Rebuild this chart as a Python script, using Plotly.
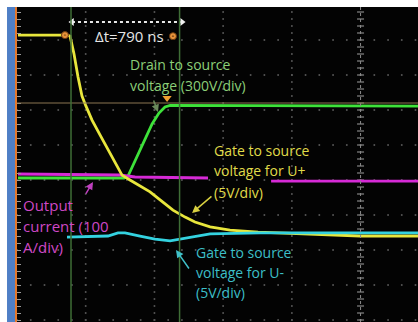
import plotly.graph_objects as go

# Horizontal unit: ns from left edge of screen (500 ns/div); vertical unit: scope divisions (0 = centre row)
yellow_t = [7, 364, 386, 415, 444, 473, 502, 546, 604, 662, 713, 764, 822, 895, 968, 1041, 1135, 1223, 1295, 1405, 1550, 1754, 2060, 2496, 2918]
yellow_v = [4.14, 4.14, 4.11, 3.6, 2.94, 2.4, 2.11, 1.71, 1.29, 0.86, 0.49, 0.14, 0.0, -0.17, -0.34, -0.57, -0.86, -1.06, -1.2, -1.34, -1.43, -1.49, -1.54, -1.6, -1.6]

green_t = [7, 779, 808, 895, 983, 1033, 1077, 1114, 2918]
green_v = [0.057, 0.057, 0.114, 0.857, 1.6, 1.914, 2.086, 2.13, 2.11]

magenta_t = [7, 750, 859, 1332, 1390, None, 1849, 2918]
magenta_v = [0.171, 0.143, 0.086, 0.057, 0.057, None, -0.03, -0.03]

cyan_t = [364, 662, 735, 786, 895, 1004, 1114, 1186, 1295, 1405, 1769, 2918]
cyan_v = [-1.63, -1.6, -1.51, -1.51, -1.6, -1.69, -1.74, -1.69, -1.6, -1.54, -1.51, -1.51]

cursor_t = [393, 1183]
delta_label = "Δt=790 ns"
trigger_level = 2.2

grid_cols = [500, 1000, 1500, 2000]
grid_rows = [-4, -3, -2, -1, 0, 1, 2, 3, 4]
centre_col = 2500

X_RANGE = [0, 2918]
Y_RANGE = [-4.057, 4.943]

fig = go.Figure()

# ---- graticule dots ----
gx, gy = [], []
for r in grid_rows:
    k = 0
    while k * 100 <= X_RANGE[1]:
        gx.append(k * 100); gy.append(r); k += 1
for c in grid_cols:
    v = -4.0
    while v <= Y_RANGE[1]:
        gx.append(c); gy.append(round(v, 2)); v += 0.2
fig.add_trace(go.Scatter(x=gx, y=gy, mode="markers",
                         marker=dict(size=2, color="#555555"), hoverinfo="skip", showlegend=False))

# centre column with minor ticks
ct_y = [round(-4 + 0.2 * i, 2) for i in range(int((Y_RANGE[1] + 4) / 0.2) + 1)]
fig.add_trace(go.Scatter(x=[centre_col] * len(ct_y), y=ct_y, mode="markers",
                         marker=dict(symbol="line-ew", size=5, line=dict(width=1, color="#a0a0a0")),
                         hoverinfo="skip", showlegend=False))
fig.add_shape(type="line", x0=centre_col, x1=centre_col, y0=Y_RANGE[0], y1=Y_RANGE[1],
              line=dict(color="#8a8a8a", width=1, dash="dot"))

# trigger level line
fig.add_shape(type="line", x0=X_RANGE[0], x1=X_RANGE[1], y0=trigger_level, y1=trigger_level,
              line=dict(color="#8c7652", width=1))
# cursor lines
for ct in cursor_t:
    fig.add_shape(type="line", x0=ct, x1=ct, y0=Y_RANGE[0], y1=Y_RANGE[1],
                  line=dict(color="#3f6e36", width=1.5))

# ---- waveforms ----
fig.add_trace(go.Scatter(x=green_t, y=green_v, mode="lines",
                         line=dict(color="#3ee23a", width=2.8), showlegend=False))
fig.add_trace(go.Scatter(x=magenta_t, y=magenta_v, mode="lines", connectgaps=False,
                         line=dict(color="#d62ad6", width=2.8), showlegend=False))
fig.add_trace(go.Scatter(x=yellow_t, y=yellow_v, mode="lines",
                         line=dict(color="#e8e63c", width=2.8), showlegend=False))
fig.add_trace(go.Scatter(x=cyan_t, y=cyan_v, mode="lines",
                         line=dict(color="#34d2e0", width=2.8), showlegend=False))

# Δt measurement arrow
fig.add_trace(go.Scatter(x=[cursor_t[0] + 7, cursor_t[1] + 18], y=[4.514, 4.514], mode="lines+markers",
                         line=dict(color="#e8e8e8", width=2, dash="dot"),
                         marker=dict(symbol=["triangle-left", "triangle-right"], size=7, color="#f0f0f0"),
                         showlegend=False, hoverinfo="skip"))
# cursor readout markers
fig.add_trace(go.Scatter(x=[349, 1135], y=[4.14, 4.11], mode="markers",
                         marker=dict(symbol="circle-dot", size=7, color="#e8923a",
                                     line=dict(color="#6a3a10", width=1)),
                         showlegend=False, hoverinfo="skip"))
# trigger position marker
fig.add_trace(go.Scatter(x=[1092], y=[2.34], mode="markers",
                         marker=dict(symbol="triangle-down", size=8, color="#f0a030"),
                         showlegend=False, hoverinfo="skip"))
# channel 4 ground marker
fig.add_trace(go.Scatter(x=[-29], y=[0.057], mode="markers+text", text=["4"],
                         textfont=dict(size=7, color="#1a4a1a"),
                         marker=dict(symbol="circle", size=11, color="#3ee23a"),
                         cliponaxis=False, showlegend=False, hoverinfo="skip"))

FONT = "Open Sans"
FS = 14

def label(x, y, text, color, size=FS):
    fig.add_annotation(x=x, y=y, text=text, showarrow=False, xanchor="left", yanchor="middle",
                       borderpad=0, borderwidth=0,
                       font=dict(family=FONT, size=size, color=color))

def pointer(x0, y0, x1, y1, color):
    fig.add_annotation(x=x1, y=y1, ax=x0, ay=y0, axref="x", ayref="y", xref="x", yref="y",
                       text="", showarrow=True, arrowhead=2, arrowsize=1, arrowwidth=1.5,
                       arrowcolor=color, standoff=0, startstandoff=0)

fig.add_annotation(x=819, y=4.11, text=delta_label, showarrow=False, xanchor="center", yanchor="middle",
                   font=dict(family=FONT, size=15, color="#e6e6e6"))

label(820, 3.29, "Drain to source", "#8ccf78")
label(820, 2.71, "voltage (300V/div)", "#8ccf78")
pointer(990, 2.314, 1026, 1.943, "#6a8a5a")

label(1430, 0.857, "Gate to source", "#e0dc4a")
label(1430, 0.286, "voltage for U+", "#e0dc4a")
label(1430, -0.343, "(5V/div)", "#e0dc4a")
pointer(1426, -0.43, 1274, -0.94, "#d8d040")

label(40, -0.714, "Output", "#cf48c6", 15)
label(40, -1.314, "current (100", "#cf48c6", 15)
label(40, -1.914, "A/div)", "#cf48c6", 15)
pointer(495, -0.43, 553, -0.057, "#c040c0")

label(1303, -2.057, "Gate to source", "#3cbfc8")
label(1303, -2.629, "voltage for U-", "#3cbfc8")
label(1303, -3.2, "(5V/div)", "#3cbfc8")
pointer(1259, -2.57, 1157, -2.0, "#40c0c8")

# left instrument bar (blue) and orange ruler
fig.add_shape(type="rect", xref="paper", yref="paper", x0=-0.0249, x1=-0.005, y0=0, y1=1,
              fillcolor="#4f7fc6", line=dict(width=0), layer="below")
fig.add_shape(type="rect", xref="paper", yref="paper", x0=-0.005, x1=0.0, y0=0, y1=1,
              fillcolor="#e4782c", line=dict(width=0), layer="below")

fig.update_layout(
    width=418, height=322,
    margin=dict(l=17, r=0, t=7, b=0),
    paper_bgcolor="white", plot_bgcolor="#030303",
    showlegend=False,
)
fig.update_xaxes(range=X_RANGE, showgrid=False, zeroline=False, showticklabels=False,
                 ticks="", showline=False, fixedrange=True)
fig.update_yaxes(range=Y_RANGE, showgrid=False, zeroline=False, showticklabels=False,
                 ticks="inside", tick0=0, dtick=0.2, ticklen=4, tickcolor="#9a9a9a",
                 showline=False, fixedrange=True)

fig.write_html("out.html", config={"displayModeBar": False},
               post_script="document.body.style.margin='0';document.body.style.overflow='hidden';")
